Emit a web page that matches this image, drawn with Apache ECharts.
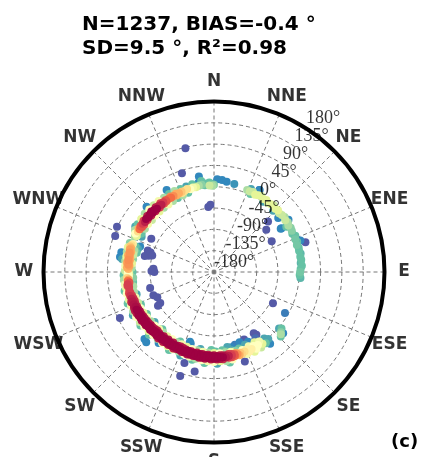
<!DOCTYPE html>
<html>
<head>
<meta charset="utf-8">
<script src="https://cdn.jsdelivr.net/npm/echarts@6/dist/echarts.min.js"></script>
<style>
  html, body { margin: 0; padding: 0; background: #fff; }
  #chart { width: 422px; height: 457px; }
</style>
</head>
<body>
<div id="chart"></div>
<script>
// Compass sectors drawn round the rim
const compassNames = ['N', 'NNE', 'NE', 'ENE', 'E', 'ESE', 'SE', 'SSE', 'S', 'SSW', 'SW', 'WSW', 'W', 'WNW', 'NW', 'NNW'];
const compassAngles = [0, 22.5, 45, 67.5, 90, 112.5, 135, 157.5, 180, 202.5, 225, 247.5, 270, 292.5, 315, 337.5];

// Direction-difference rings (radial axis)
const diffTicks = [-180, -135, -90, -45, 0, 45, 90, 135, 180];
const tickLabelBearing = 32.7;

// Spectral (reversed) colour ramp used for point density
const spectralR = ['#5e4fa2', '#3288bd', '#66c2a5', '#abdda4', '#e6f598', '#ffffbf',
                   '#fee08b', '#fdae61', '#f46d43', '#d53e4f', '#9e0142'];

// Each point: [observed direction (deg), direction difference (deg), relative density]
const swBand = [
  [166,-1,0.85],[166,3,0.82],
  [168,1,0.9],[168,-3,0.88],[168,4,0.85],
  [170,0,0.95],[170,4,0.9],[170,-4,0.9],
  [172,2,0.97],[172,-2,0.95],
  [174,1,1],[174,-3,0.97],[174,5,0.93],
  [176,0,1],[176,4,0.97],[176,-4,0.95],
  [178,2,1],[178,-2,1],[178,5,0.95],
  [180,0,1],[180,-4,0.97],[180,3,1],
  [182,1,1],[182,-3,1],[182,5,0.96],
  [184,2,1],[184,-2,1],[184,-5,0.95],
  [186,0,1],[186,4,0.97],[186,-3,1],
  [188,-1,1],[188,3,1],[188,-5,0.96],
  [190,1,1],[190,-4,1],[190,4,0.97],
  [192,-2,1],[192,2,1],[192,-6,0.95],
  [194,0,1],[194,-4,1],[194,3,0.97],
  [196,-2,1],[196,2,1],[196,-6,0.96],
  [198,-1,1],[198,-5,1],[198,3,0.96],
  [200,-3,1],[200,1,1],[200,-6,0.97],
  [202,-2,1],[202,2,0.97],[202,-7,0.96],
  [204,-4,1],[204,0,1],[204,-8,0.95],
  [206,-3,1],[206,1,0.98],[206,-7,0.97],
  [208,-5,1],[208,-1,1],[208,3,0.95],
  [210,-4,1],[210,0,1],[210,-8,0.96],
  [212,-5,1],[212,-1,1],[212,2,0.95],
  [214,-4,1],[214,0,1],[214,-8,0.96],
  [216,-5,1],[216,-1,1],[216,3,0.95],
  [218,-4,1],[218,0,1],[218,-8,0.96],
  [220,-5,1],[220,-1,1],[220,3,0.95],
  [222,-3,1],[222,-7,0.97],[222,1,1],
  [224,-4,1],[224,0,1],[224,-8,0.95],
  [226,-3,1],[226,1,1],[226,-7,0.96],
  [228,-2,1],[228,2,1],[228,-6,0.96],
  [230,-3,1],[230,1,1],[230,-6,0.97],
  [232,-1,1],[232,3,1],[232,-5,0.96],
  [234,-2,1],[234,2,1],[234,-5,0.97],
  [236,0,1],[236,4,0.98],[236,-4,0.97],
  [238,-1,1],[238,3,1],[238,-4,0.96],
  [240,0,1],[240,4,1],[240,-3,0.97],
  [242,1,1],[242,-3,0.98],[242,5,0.96],
  [244,2,1],[244,-2,0.97],[244,6,0.95],
  [246,1,0.98],[246,5,0.96],[246,-2,0.95],
  [248,3,0.97],[248,-1,0.95],
  [250,2,0.96],[250,6,0.94],[250,-2,0.93],
  [252,3,0.95],[252,-1,0.92],
  [254,4,0.92],[254,0,0.9],
  [256,2,0.9],[256,5,0.88],
  [258,3,0.86]
];

// Lighter fringe on both sides of the south-west band
const swFringe = [
  [168,9,0.5],[172,10,0.3],[176,9,0.4],[180,10,0.5],[184,9,0.45],[188,8,0.5],[192,7,0.3],
  [196,6,0.45],[200,5,0.5],[204,4,0.3],[208,5,0.45],[212,5,0.4],[216,6,0.5],[220,5,0.3],
  [224,5,0.5],[228,6,0.4],[232,7,0.5],[236,9,0.35],[240,10,0.5],[244,10,0.3],[248,9,0.45],
  [252,9,0.4],[256,10,0.5],[260,9,0.4],
  [170,14,0.2],[178,14,0.15],[186,13,0.2],[194,11,0.2],[202,10,0.15],[210,10,0.2],
  [218,10,0.1],[226,11,0.2],[234,12,0.2],[242,14,0.15],[250,14,0.2],[258,13,0.2],
  [168,-8,0.45],[172,-9,0.3],[176,-8,0.5],[180,-9,0.4],[184,-9,0.3],[188,-10,0.45],
  [192,-11,0.3],[196,-11,0.5],[200,-12,0.4],[204,-13,0.45],[208,-12,0.3],[212,-13,0.5],
  [216,-12,0.4],[220,-13,0.3],[224,-13,0.45],[228,-11,0.5],[232,-11,0.3],[236,-9,0.45],
  [240,-8,0.4],[244,-7,0.5],[248,-7,0.35],[252,-6,0.45],[256,-6,0.3],
  [174,-14,0.2],[182,-15,0.2],[190,-15,0.15],[206,-17,0.2],[222,-17,0.2],[230,-16,0.15],
  [238,-13,0.2],[246,-11,0.2],[254,-10,0.15]
];

// South-south-east tail of the band
const sseTail = [
  [146,3,0.4],[147,-5,0.45],[148,8,0.35],[149,0,0.5],[150,-9,0.4],[151,5,0.5],[152,-3,0.5],
  [153,9,0.4],[154,1,0.55],[155,-7,0.45],[156,4,0.55],[157,-2,0.55],[158,7,0.45],[159,0,0.6],
  [160,-5,0.5],[161,3,0.62],[162,-1,0.65],[163,4,0.7],[164,0,0.75],[165,-3,0.72],
  [162,-10,0.2],[165,-8,0.25],[168,-12,0.15],[171,-10,0.2],[157,-13,0.15],[160,-18,0.1],
  [164,-20,0.08],[154,-16,0.1],[167,-17,0.1],[143,-4,0.15],[144,6,0.2],[141,2,0.15],
  [179,-12,0.2],[170,-19,0.15]
];

// Westerly column
const westColumn = [
  [260,2,0.9],[261,5,0.88],[262,4,0.9],[263,0,0.86],[264,3,0.8],[265,1,0.72],[266,4,0.62],
  [267,0,0.5],[268,3,0.45],[269,-1,0.42],[270,2,0.5],
  [272,1,0.68],[273,4,0.7],[274,-1,0.72],[275,2,0.74],[276,5,0.7],[277,0,0.73],[278,3,0.75],
  [279,-1,0.7],[280,2,0.74],[281,5,0.7],[282,1,0.72],[283,3,0.74],[284,0,0.7],[285,4,0.72],
  [286,2,0.7],[287,5,0.65],[288,3,0.6],[289,1,0.55],
  [271,8,0.35],[274,8,0.45],[277,9,0.3],[280,8,0.4],[283,9,0.3],[286,9,0.4],[289,8,0.25],
  [273,-6,0.3],[276,-6,0.4],[279,-7,0.25],[282,-6,0.35],[285,-6,0.3],[288,-6,0.2],
  [270,-8,0.2],[287,-12,0.15],[284,-12,0.2],[262,10,0.45],[265,11,0.3],[263,-8,0.2],
  [266,-9,0.25],[260,-7,0.3],[268,11,0.2]
];

// North-westerly arc
const nwArc = [
  [294,3,0.3],[295,0,0.4],[296,5,0.5],[297,-3,0.2],[298,2,0.6],
  [300,1,0.8],[300,4,0.7],[302,-1,0.85],[302,3,0.85],[304,2,0.9],[304,-2,0.85],
  [306,0,0.95],[306,4,0.9],[308,2,1],[308,-2,0.9],[310,0,1],[310,4,0.95],
  [312,2,1],[312,-2,0.95],[314,0,1],[314,4,1],[316,2,1],[316,-2,0.95],
  [318,0,1],[318,4,0.95],[320,2,0.95],[320,-2,0.9],[322,0,0.95],[322,4,0.9],
  [324,2,0.9],[324,-1,0.85],[326,0,0.85],[326,3,0.85],[328,2,0.8],
  [330,1,0.8],[330,4,0.75],[332,2,0.75],[334,0,0.7],[334,4,0.7],[336,2,0.7],
  [338,3,0.65],[338,0,0.6],[340,2,0.6],[342,4,0.6],[344,2,0.5],[346,4,0.45],
  [348,3,0.4],[350,5,0.3],[352,6,0.25],[354,8,0.2],[354,4,0.2],[356,7,0.15],
  [357,3,0.35],[359,2,0.3],[0,4,0.25],
  [298,9,0.3],[302,10,0.2],[306,10,0.4],[310,11,0.3],[314,10,0.5],[318,10,0.35],
  [322,10,0.45],[326,9,0.3],[330,10,0.2],[334,10,0.3],[338,9,0.2],[342,10,0.15],
  [346,11,0.2],[350,11,0.1],
  [298,-7,0.2],[302,-8,0.3],[306,-8,0.45],[310,-9,0.35],[314,-8,0.5],[318,-8,0.4],
  [322,-8,0.3],[326,-8,0.45],[330,-7,0.3],[334,-6,0.2],[338,-5,0.3],[342,-4,0.2],
  [296,-10,0.15],[300,12,0.15]
];

// Sparse northerly points
const northSparse = [
  [2,16,0.1],[5,15,0.1],[8,12.5,0.1],[13,10.5,0.12],[357,9,0.2],[359,6,0.15],[352,14,0.2]
];

// North-easterly arc
const neArc = [
  [22,7,0.3],[24,6,0.35],[26,8,0.35],[28,5,0.4],[30,7,0.4],[32,9,0.35],[34,6,0.4],
  [36,8,0.4],[38,5,0.35],[40,7,0.4],[42,9,0.35],[44,6,0.4],[46,8,0.4],[48,5,0.35],
  [50,7,0.35],[52,9,0.3],[54,6,0.35],[56,8,0.3],[58,5,0.3],[60,7,0.25],[62,6,0.25],
  [24,12,0.15],[25,2,0.2],[29,18,0.1],[35,1,0.15],[44,0,0.15],[50,-3,0.1],[55,12,0.1],
  [57,-10,0.1],[58,0,0.2]
];

// Easterly arc
const eastArc = [
  [64,4,0.2],[66,8,0.2],[68,5,0.22],[70,7,0.2],[72,4,0.22],[74,6,0.2],[76,5,0.2],
  [78,7,0.18],[80,5,0.2],[82,6,0.2],[84,4,0.18],[86,6,0.2],[88,3,0.2],[90,2,0.22],
  [92,1,0.2],[94,3,0.18],[70,14,0.1]
];

// South-easterly group
const seArc = [
  [130,6,0.2],[131,2,0.15],[132,10,0.25],[133,13,0.3],[134,16,0.2],[131.5,15,0.1],
  [142,12.5,0.1],[120,-7,0.08]
];

// Isolated points away from the main ring
const scattered = [
  [347,88,0.02],[342,39,0.02],[351,24,0.1],[314,18,0.1],[330,20,0.1],[355,-42,0.02],
  [357,-38,0.02],[295,46,0.02],[290,42,0.02],[298,-30,0.02],
  [286,-35,0.02],[284,-38,0.02],[288,-33,0.02],[283,-30,0.02],[287,-40,0.02],[285,-45,0.02],
  [289,-15,0.1],[279,21,0.1],[282,20,0.1],[278,16,0.15],
  [273,-52,0.02],[270,-54,0.02],[271,-48,0.02],[256,-41,0.02],[249,-43,0.02],[246,-49,0.02],
  [240,-49,0.02],[239,-42,0.02],[244,41,0.02],[226,24,0.1],[224,26,0.1],
  [199,-24,0.1],[198,-21,0.1],[198,22,0.02],[191,34,0.02],[198,51,0.02],
  [161,20,0.02],[160,-22,0.1],[156,-24,0.02],[147,-26,0.02],[148,-15,0.05],[146,-20,0.02],
  [62,-42,0.02],[47,-24,0.02],[51,-38,0.02],[57,-12,0.1],[29,18,0.1],[72,23,0.02],
  [118,-39,0.02]
];

const points = [].concat(swBand, swFringe, sseTail, westColumn, nwArc, northSparse,
                         neArc, eastArc, seArc, scattered)
  .map(([dir, diff, dens]) => [diff, dir, dens])
  .sort((a, b) => a[2] - b[2]);

const chart = echarts.init(document.getElementById('chart'), null, { renderer: 'canvas' });

const dashed = { color: '#777', width: 1, type: [4, 3] };

chart.setOption({
  animation: false,
  backgroundColor: '#fff',
  title: [
    {
      text: 'N=1237, BIAS=-0.4 °\nSD=9.5 °, R²=0.98',
      left: 77, top: 8,
      textStyle: { fontFamily: 'DejaVu Sans', fontWeight: 'bold', fontSize: 20, lineHeight: 24, color: '#000' }
    },
    {
      text: '(c)',
      left: 386, top: 428,
      textStyle: { fontFamily: 'DejaVu Sans', fontWeight: 'bold', fontSize: 18, color: '#000' }
    }
  ],
  polar: [
    { center: [214, 272], radius: 170.5 },
    { center: [214, 272], radius: 190 }
  ],
  angleAxis: [
    {
      polarIndex: 0, type: 'value', min: 0, max: 360, interval: 22.5,
      startAngle: 90, clockwise: true,
      axisLine: { show: true, lineStyle: { color: '#000', width: 4 } },
      axisTick: { show: false },
      axisLabel: { show: false },
      splitLine: { show: true, lineStyle: dashed }
    },
    { polarIndex: 1, type: 'value', min: 0, max: 360, startAngle: 90, clockwise: true, show: false }
  ],
  radiusAxis: [
    {
      polarIndex: 0, type: 'value', min: -180, max: 180, interval: 45,
      axisLine: { show: false }, axisTick: { show: false }, axisLabel: { show: false },
      splitLine: { show: true, lineStyle: dashed }
    },
    { polarIndex: 1, type: 'value', min: 0, max: 1, show: false }
  ],
  visualMap: {
    show: false, type: 'continuous', dimension: 2, min: 0, max: 1,
    seriesIndex: 0, inRange: { color: spectralR }
  },
  series: [
    {
      type: 'scatter', coordinateSystem: 'polar', polarIndex: 0,
      data: points, symbolSize: 8, silent: true,
      itemStyle: { opacity: 1 }
    },
    {
      type: 'scatter', coordinateSystem: 'polar', polarIndex: 0,
      data: diffTicks.map(v => [v, tickLabelBearing]),
      symbol: 'circle', symbolSize: 0, clip: false, silent: true,
      itemStyle: { color: 'transparent' },
      label: {
        show: true, position: [0, 0], align: 'left', verticalAlign: 'middle', offset: [0, -10],
        formatter: p => p.value[0] + '°',
        fontFamily: 'Liberation Serif', fontSize: 18, color: '#000'
      }
    },
    {
      type: 'scatter', coordinateSystem: 'polar', polarIndex: 1,
      data: compassAngles.map((a, i) => ({ name: compassNames[i], value: [1, a] })),
      symbol: 'circle', symbolSize: 0, clip: false, silent: true,
      itemStyle: { color: 'transparent' },
      label: {
        show: true, position: 'inside', formatter: '{b}',
        fontFamily: 'DejaVu Sans', fontWeight: 'bold', fontSize: 17, color: '#000'
      }
    }
  ]
});
</script>
</body>
</html>
